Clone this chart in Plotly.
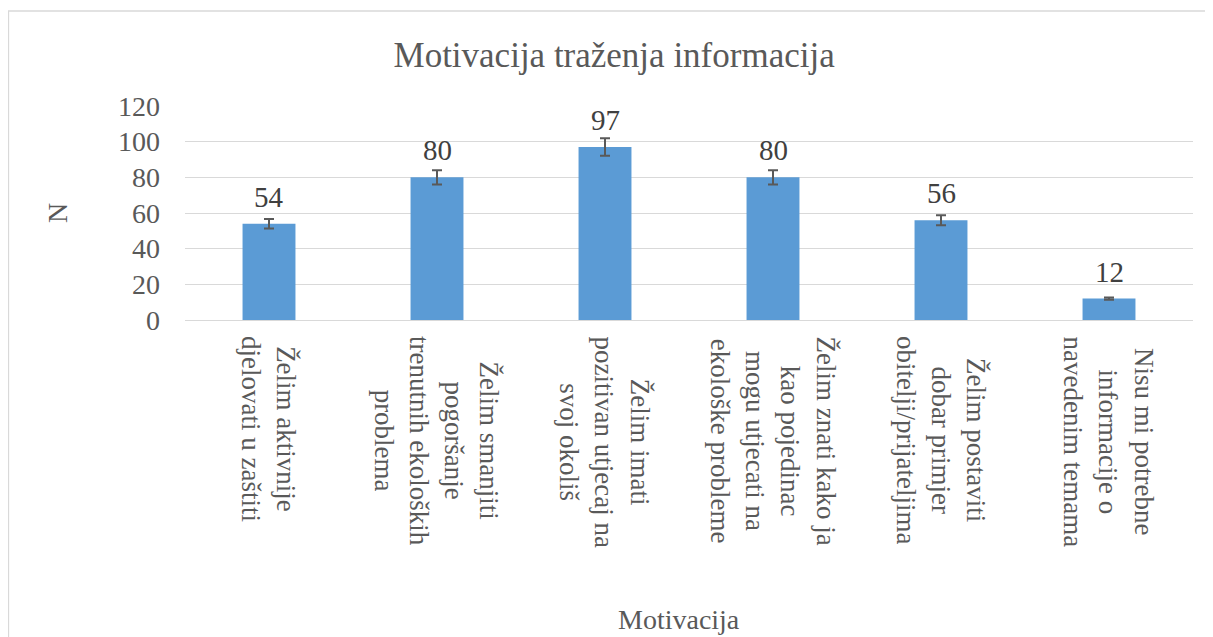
import plotly.graph_objects as go

categories = [
    "Želim aktivnije<br>djelovati u zaštiti",
    "Želim smanjiti<br>pogoršanje<br>trenutnih ekoloških<br>problema",
    "Želim imati<br>pozitivan utjecaj na<br>svoj okoliš",
    "Želim znati kako ja<br>kao pojedinac<br>mogu utjecati na<br>ekološke probleme",
    "Želim postaviti<br>dobar primjer<br>obitelji/prijateljima",
    "Nisu mi potrebne<br>informacije o<br>navedenim temama",
]
values = [54, 80, 97, 80, 56, 12]
errors = [2.7, 4.0, 4.85, 4.0, 2.8, 0.6]
y_ticks = [0, 20, 40, 60, 80, 100, 120]

FONT = "Liberation Serif"
TXT = "#595959"
GRID = "#d9d9d9"

fig = go.Figure()
fig.add_trace(go.Bar(
    x=categories, y=values,
    marker=dict(color="#5b9bd5", line=dict(width=0)),
    error_y=dict(type="data", array=errors, visible=True,
                 color="#595959", thickness=2, width=5),
    hoverinfo="x+y",
))

annotations = []
for c, v in zip(categories, values):
    annotations.append(dict(x=c, y=v, xref="x", yref="y", text=str(v),
                            showarrow=False, yanchor="bottom", xanchor="center",
                            yshift=9, font=dict(family=FONT, size=29, color="#404040")))
    annotations.append(dict(x=c, y=0, xref="x", yref="y", text=c,
                            showarrow=False, textangle=90, yanchor="top",
                            xanchor="center", align="center", yshift=-14,
                            font=dict(family=FONT, size=27, color=TXT)))
annotations.append(dict(x=0.49, y=-1.40, xref="paper", yref="paper",
                        text="Motivacija", showarrow=False,
                        xanchor="center", yanchor="middle",
                        font=dict(family=FONT, size=28, color=TXT)))

fig.update_layout(
    width=1205, height=629,
    margin=dict(l=177, r=20, t=98, b=317),
    paper_bgcolor="white", plot_bgcolor="white",
    showlegend=False,
    bargap=0.685,
    title=dict(text="Motivacija traženja informacija", x=0.503, y=0.925,
               xref="container", yref="container", xanchor="center", yanchor="middle",
               font=dict(family=FONT, size=35, color=TXT)),
    xaxis=dict(showticklabels=False, showgrid=False, showline=False, ticks=""),
    yaxis=dict(range=[0, 120], tickvals=y_ticks, showgrid=True, gridcolor=GRID,
               gridwidth=1.3, zeroline=True, zerolinecolor=GRID, zerolinewidth=1.3,
               showline=False, ticks="", ticklabelstandoff=24,
               tickfont=dict(family=FONT, size=28, color=TXT),
               title=dict(text="N", standoff=42,
                          font=dict(family=FONT, size=28, color=TXT))),
    annotations=annotations,
    shapes=[dict(type="rect", xref="paper", yref="paper",
                 x0=-0.1751, x1=1.2, y0=-3, y1=1.444,
                 line=dict(color=GRID, width=1.3), fillcolor="rgba(0,0,0,0)",
                 layer="below")],
)

fig.write_html("out.html")
